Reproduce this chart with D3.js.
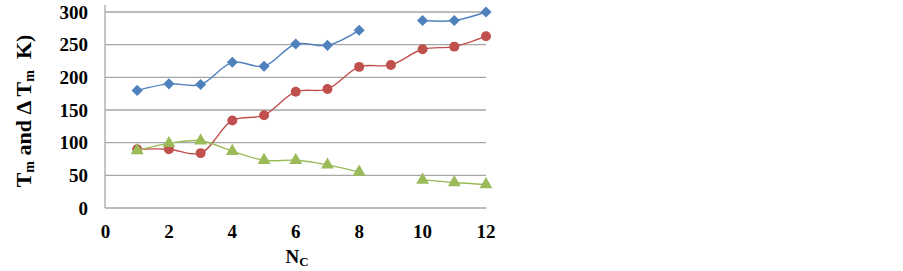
<!DOCTYPE html>
<html><head><meta charset="utf-8">
<script src="https://cdn.jsdelivr.net/npm/d3@7"></script>
<style>body{margin:0;background:#fff}</style>
</head><body>
<svg id="c" width="903" height="271"></svg>
<script>
const nc = [1,2,3,4,5,6,7,8,9,10,11,12];
const tmBlue = [180,190,189,223,217,251,249,272,null,287,287,300];
const tmRed = [90,90,84,134,142,178,182,216,219,243,247,263];
const dTmGreen = [88,99,103,87,73,73,66,55,null,43,39,36];
const yTicks = [0,50,100,150,200,250,300];
const xTicks = [0,2,4,6,8,10,12];

const svg = d3.select("#c");
const x = d3.scaleLinear().domain([0,12]).range([105.5,486]);
const y = d3.scaleLinear().domain([0,300]).range([208,12]);
const font = "'Liberation Serif','Times New Roman',serif";

svg.append("g").selectAll("line").data(yTicks).join("line")
  .attr("x1",105).attr("x2",486)
  .attr("y1",d=>y(d)).attr("y2",d=>y(d))
  .attr("stroke","#a6a6a6").attr("stroke-width",1.3);
svg.append("line").attr("x1",105).attr("x2",105).attr("y1",5).attr("y2",y(0))
  .attr("stroke","#a6a6a6").attr("stroke-width",1.3);

svg.append("g").selectAll("text").data(yTicks).join("text")
  .attr("x",88).attr("y",d=>y(d)+6.5).attr("text-anchor","end")
  .attr("font-family",font).attr("font-weight","bold").attr("font-size",19)
  .text(d=>d);
svg.append("g").selectAll("text").data(xTicks).join("text")
  .attr("x",d=>x(d)).attr("y",238).attr("text-anchor","middle")
  .attr("font-family",font).attr("font-weight","bold").attr("font-size",19)
  .text(d=>d);

const xt = svg.append("text").attr("x",297).attr("y",263).attr("text-anchor","middle")
  .attr("font-family",font).attr("font-weight","bold").attr("font-size",19);
xt.append("tspan").text("N");
xt.append("tspan").attr("font-size",13).attr("dy",3).text("C");

const yt = svg.append("text").attr("transform","translate(31,111) rotate(-90)")
  .attr("text-anchor","middle")
  .attr("font-family",font).attr("font-weight","bold").attr("font-size",22)
  .attr("xml:space","preserve");
yt.append("tspan").text("T");
yt.append("tspan").attr("font-size",14).attr("dy",3).text("m");
yt.append("tspan").attr("dy",-3).text(" and \u0394 T");
yt.append("tspan").attr("font-size",14).attr("dy",3).text("m");
yt.append("tspan").attr("dy",-3).text("\u00a0\u00a0K)");

const series = [
  {vals: tmBlue, color:"#4f81bd", sym:d3.symbolSquare, size:62, rot:45},
  {vals: tmRed, color:"#c0504d", sym:d3.symbolCircle, size:78, rot:0},
  {vals: dTmGreen, color:"#9bbb59", sym:d3.symbolTriangle, size:72, rot:0}
];
series.forEach(s=>{
  const pts = nc.map((n,i)=>({n, v:s.vals[i]}));
  const line = d3.line().defined(d=>d.v!==null)
    .x(d=>x(d.n)).y(d=>y(d.v)).curve(d3.curveCatmullRom.alpha(0.5));
  svg.append("path").datum(pts).attr("d",line)
    .attr("fill","none").attr("stroke",s.color).attr("stroke-width",1.4);
  svg.append("g").selectAll("path").data(pts.filter(d=>d.v!==null)).join("path")
    .attr("transform",d=>`translate(${x(d.n)},${y(d.v)}) rotate(${s.rot})`)
    .attr("d",d3.symbol().type(s.sym).size(s.size))
    .attr("fill",s.color);
});
</script>
</body></html>
